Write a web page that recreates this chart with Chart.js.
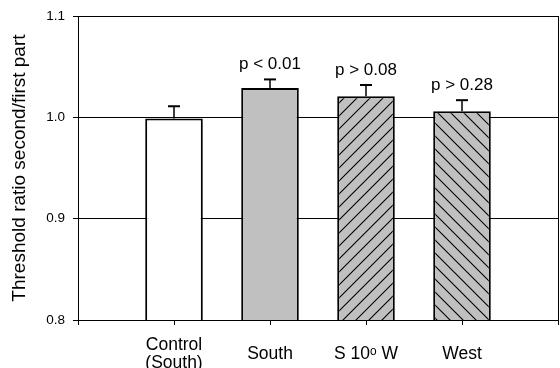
<!DOCTYPE html>
<html>
<head>
<meta charset="utf-8">
<script src="https://cdn.jsdelivr.net/npm/chart.js@4"></script>
<style>
  html, body { margin: 0; padding: 0; background: #fff; }
  #wrap { width: 560px; height: 368px; }
</style>
</head>
<body>
<div id="wrap"><canvas id="bars" width="560" height="368"></canvas></div>
<script>
var categories = [['Control', '(South)'], 'South', 'S 10\u1D52 W', 'West'];
var positions = [1, 2, 3, 4];
var ratios = [0.999, 1.029, 1.021, 1.006];
var errors = [0.012, 0.0085, 0.011, 0.011];
var pLabels = ['', 'p < 0.01', 'p > 0.08', 'p > 0.28'];
var yTicks = [0.8, 0.9, 1.0, 1.1];

var FONT = "'Liberation Sans', Arial, sans-serif";

function hatch(forward) {
    var s = 13;
    var c = document.createElement('canvas');
    c.width = s; c.height = s;
    var g = c.getContext('2d');
    g.fillStyle = '#c0c0c0';
    g.fillRect(0, 0, s, s);
    g.strokeStyle = '#000';
    g.lineWidth = 1.1;
    g.beginPath();
    if (forward) {
        g.moveTo(-2, s + 2); g.lineTo(s + 2, -2);
        g.moveTo(-2, 2); g.lineTo(2, -2);
        g.moveTo(s - 2, s + 2); g.lineTo(s + 2, s - 2);
    } else {
        g.moveTo(-2, -2); g.lineTo(s + 2, s + 2);
        g.moveTo(s - 2, -2); g.lineTo(s + 2, 2);
        g.moveTo(-2, s - 2); g.lineTo(2, s + 2);
    }
    g.stroke();
    return g.createPattern(c, 'repeat');
}

var fills = ['#ffffff', '#c0c0c0', hatch(true), hatch(false)];

var errorBars = {
    id: 'errorBars',
    afterDatasetsDraw: function(chart) {
        var ctx = chart.ctx;
        var y = chart.scales.y;
        var meta = chart.getDatasetMeta(0);
        ctx.save();
        ctx.strokeStyle = '#000';
        meta.data.forEach(function(bar, i) {
            var top = y.getPixelForValue(ratios[i] + errors[i]);
            ctx.lineWidth = 1.5;
            ctx.beginPath();
            ctx.moveTo(bar.x, bar.y);
            ctx.lineTo(bar.x, top);
            ctx.stroke();
            ctx.lineWidth = 2;
            ctx.beginPath();
            ctx.moveTo(bar.x - 6, top);
            ctx.lineTo(bar.x + 6, top);
            ctx.stroke();
            if (pLabels[i]) {
                ctx.fillStyle = '#000';
                ctx.font = '17px ' + FONT;
                ctx.textAlign = 'center';
                ctx.textBaseline = 'alphabetic';
                ctx.fillText(pLabels[i], bar.x, top - 10);
            }
        });
        ctx.restore();
    }
};

new Chart(document.getElementById('bars'), {
    type: 'bar',
    data: {
        datasets: [{
            data: positions.map(function(p, i) { return { x: p, y: ratios[i] }; }),
            backgroundColor: fills,
            borderColor: '#000',
            borderWidth: 2,
            categoryPercentage: 1,
            barPercentage: 0.6
        }]
    },
    options: {
        responsive: false,
        animation: false,
        layout: { padding: { top: 15, right: 2, left: 0, bottom: 0 } },
        plugins: { legend: { display: false }, tooltip: { enabled: false } },
        scales: {
            x: {
                type: 'linear',
                min: 0,
                max: 5,
                offset: false,
                afterFit: function(scale) {
                    scale.height = 48;
                    scale.paddingLeft = 0;
                    scale.paddingRight = 0;
                },
                afterBuildTicks: function(scale) {
                    scale.ticks = [0, 1, 2, 3, 4, 5].map(function(v) { return { value: v }; });
                },
                ticks: {
                    autoSkip: false,
                    maxRotation: 0,
                    crossAlign: 'center',
                    padding: 20,
                    color: '#000',
                    font: { family: FONT, size: 17.5, lineHeight: 1.05 },
                    callback: function(v) {
                        var i = positions.indexOf(v);
                        return i >= 0 ? categories[i] : '';
                    }
                },
                grid: {
                    offset: false,
                    drawOnChartArea: false,
                    tickColor: '#000',
                    tickLength: 5,
                    lineWidth: 1
                },
                border: { color: '#000', width: 1 }
            },
            y: {
                min: 0.8,
                max: 1.1,
                afterFit: function(scale) { scale.width = 78; },
                afterBuildTicks: function(scale) {
                    scale.ticks = yTicks.map(function(v) { return { value: v }; });
                },
                ticks: {
                    padding: 8,
                    color: '#000',
                    font: { family: FONT, size: 13.5 },
                    callback: function(v) { return Number(v).toFixed(1); }
                },
                grid: {
                    color: '#000',
                    tickColor: '#000',
                    tickLength: 5,
                    lineWidth: 1
                },
                border: { color: '#000', width: 1 },
                title: {
                    display: true,
                    text: 'Threshold ratio second/first part',
                    color: '#000',
                    font: { family: FONT, size: 19 },
                    padding: { top: 8, bottom: 0 }
                }
            },
            yRight: {
                position: 'right',
                min: 0.8,
                max: 1.1,
                afterFit: function(scale) { scale.width = 0; },
                ticks: { display: false },
                grid: { display: false },
                border: { display: true, color: '#000', width: 1 }
            }
        }
    },
    plugins: [errorBars]
});
</script>
</body>
</html>
